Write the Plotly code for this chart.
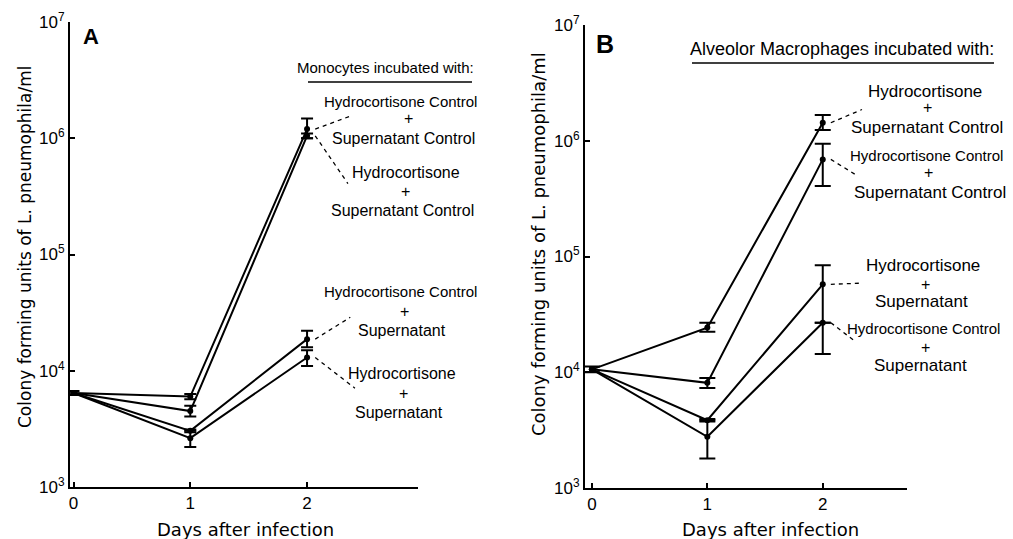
import numpy as np
import plotly.graph_objects as go

nan = np.nan
W, H = 1013, 539

days = [0, 1, 2]
x_ticks = [0, 1, 2]
y_ticks = [1e3, 1e4, 1e5, 1e6, 1e7]
y_ticktext = ["10<sup>3</sup>", "10<sup>4</sup>", "10<sup>5</sup>", "10<sup>6</sup>", "10<sup>7</sup>"]

# ---- Panel A: Monocytes (values, upper and lower error limits) ----
a_hcc_scc = [6.43e3, 6.0e3, 1.2e6]
a_hcc_scc_hi = [6.7e3, 6.3e3, 1.48e6]
a_hcc_scc_lo = [6.2e3, 5.7e3, 1.0e6]

a_hc_scc = [6.43e3, 4.5e3, 1.05e6]
a_hc_scc_hi = [nan, 5.0e3, 1.1e6]
a_hc_scc_lo = [nan, 4.04e3, 1.0e6]

a_hcc_s = [6.43e3, 3.04e3, 1.87e4]
a_hcc_s_hi = [nan, 3.12e3, 2.21e4]
a_hcc_s_lo = [nan, 2.96e3, 1.59e4]

a_hc_s = [6.43e3, 2.63e3, 1.3e4]
a_hc_s_hi = [nan, 3.04e3, 1.5e4]
a_hc_s_lo = [nan, 2.21e3, 1.1e4]

# ---- Panel B: Alveolar macrophages ----
b_hc_scc = [1.06e4, 2.43e4, 1.43e6]
b_hc_scc_hi = [nan, 2.68e4, 1.67e6]
b_hc_scc_lo = [nan, 2.24e4, 1.24e6]

b_hcc_scc = [1.06e4, 8.1e3, 6.9e5]
b_hcc_scc_hi = [1.12e4, 8.9e3, 9.4e5]
b_hcc_scc_lo = [1.0e4, 7.3e3, 4.06e5]

b_hc_s = [1.06e4, 3.85e3, 5.75e4]
b_hc_s_hi = [nan, 3.95e3, 8.4e4]
b_hc_s_lo = [nan, 3.75e3, 2.68e4]

b_hcc_s = [1.06e4, 2.77e3, 2.68e4]
b_hcc_s_hi = [nan, 3.85e3, nan]
b_hcc_s_lo = [nan, 1.8e3, 1.44e4]

# leader-line end points (day, value)
a_leaders = [(a_hcc_scc, 2.37, 10**6.19), (a_hc_scc, 2.35, 10**5.61),
             (a_hcc_s, 2.37, 10**4.46), (a_hc_s, 2.41, 10**3.85)]
b_leaders = [(b_hc_scc, 2.34, 10**6.27), (b_hcc_scc, 2.28, 10**5.71),
             (b_hc_s, 2.34, 10**4.77), (b_hcc_s, 2.29, 10**4.26)]

REG = "Liberation Sans, Arial, sans-serif"
DJ = "DejaVu Sans, sans-serif"

fig = go.Figure()


def add_series(vals, hi, lo, xa, ya, capw):
    v = np.array(vals, dtype=float)
    h = np.array(hi, dtype=float)
    l = np.array(lo, dtype=float)
    fig.add_trace(go.Scatter(
        x=days, y=v, xaxis=xa, yaxis=ya, mode="lines+markers",
        line=dict(color="black", width=2),
        marker=dict(color="black", size=6),
        error_y=dict(type="data", symmetric=False, array=h - v, arrayminus=v - l,
                     color="black", thickness=2, width=capw),
        showlegend=False, cliponaxis=False))


for vals, hi, lo in [(a_hcc_scc, a_hcc_scc_hi, a_hcc_scc_lo), (a_hc_scc, a_hc_scc_hi, a_hc_scc_lo),
                     (a_hcc_s, a_hcc_s_hi, a_hcc_s_lo), (a_hc_s, a_hc_s_hi, a_hc_s_lo)]:
    add_series(vals, hi, lo, "x", "y", 6)
for vals, hi, lo in [(b_hc_scc, b_hc_scc_hi, b_hc_scc_lo), (b_hcc_scc, b_hcc_scc_hi, b_hcc_scc_lo),
                     (b_hc_s, b_hc_s_hi, b_hc_s_lo), (b_hcc_s, b_hcc_s_hi, b_hcc_s_lo)]:
    add_series(vals, hi, lo, "x2", "y2", 8)

for leaders, xa, ya in [(a_leaders, "x", "y"), (b_leaders, "x2", "y2")]:
    for vals, xe, ye in leaders:
        fig.add_trace(go.Scatter(x=[days[2] + 0.07, xe], y=[vals[2], ye], xaxis=xa, yaxis=ya,
                                 mode="lines", line=dict(color="black", width=1.3, dash="4px,4px"),
                                 showlegend=False, hoverinfo="skip"))


def px(x):
    return x / W


def py(y):
    return 1 - y / H


ann = []


def text(t, x, y, size, family=REG, **kw):
    ann.append(dict(text=t, x=px(x), y=py(y), xref="paper", yref="paper", showarrow=False,
                    xanchor="center", yanchor="middle",
                    font=dict(size=size, family=family, color="black"), **kw))


# label blocks: (text, center x, center y, size)
a_labels = [
    ("Hydrocortisone Control", 400, 101, 15), ("+", 408, 118, 16), ("Supernatant Control", 403, 138, 16),
    ("Hydrocortisone", 406, 172, 16), ("+", 405, 191, 16), ("Supernatant Control", 402, 210, 16),
    ("Hydrocortisone Control", 400, 291, 15), ("+", 404, 311, 16), ("Supernatant", 402, 330, 16),
    ("Hydrocortisone", 402, 373, 16), ("+", 403, 393, 16), ("Supernatant", 399, 412, 16),
]
b_labels = [
    ("Hydrocortisone", 925, 92, 17), ("+", 927, 108, 16), ("Supernatant Control", 927, 127, 17),
    ("Hydrocortisone Control", 926, 155, 15), ("+", 928, 173, 16), ("Supernatant Control", 930, 192, 17),
    ("Hydrocortisone", 923, 265, 17), ("+", 925, 284, 16), ("Supernatant", 921, 301, 17),
    ("Hydrocortisone Control", 923, 328, 15), ("+", 925, 347, 16), ("Supernatant", 920, 365, 17),
]
for t, x, y, s in a_labels + b_labels:
    text(t, x, y, s)

text("Monocytes incubated with:", 385, 67, 15)
text("Alveolor Macrophages incubated with:", 842, 49, 18)
text("<b>A</b>", 91, 36, 22)
text("<b>B</b>", 605, 44, 25)
text("Colony forming units of L. pneumophila/ml", 25, 247, 17, DJ, textangle=-90)
text("Colony forming units of L. pneumophila/ml", 538, 244, 18, DJ, textangle=-90)
text("Days after infection", 245, 529, 18, DJ)
text("Days after infection", 770, 529, 18, DJ)

shapes = [
    dict(type="line", xref="paper", yref="paper", x0=px(308), x1=px(472), y0=py(82), y1=py(82),
         line=dict(color="black", width=1.5)),
    dict(type="line", xref="paper", yref="paper", x0=px(692), x1=px(994), y0=py(63), y1=py(63),
         line=dict(color="black", width=1.5)),
]

xcommon = dict(tickvals=x_ticks, ticks="inside", ticklen=5, tickwidth=1.5, tickcolor="black",
               showline=True, linecolor="black", linewidth=2, showgrid=False, zeroline=False,
               tickfont=dict(family=REG, size=17, color="black"), automargin=False)
ycommon = dict(type="log", range=[3, 7], tickvals=y_ticks, ticktext=y_ticktext, ticks="inside",
               ticklen=5, tickwidth=1.5, tickcolor="black", showline=True, linecolor="black",
               linewidth=2, showgrid=False, zeroline=False,
               tickfont=dict(family=REG, size=17, color="black"), automargin=False)

fig.update_layout(
    width=W, height=H, margin=dict(l=0, r=0, t=0, b=0),
    paper_bgcolor="white", plot_bgcolor="white",
    xaxis=dict(domain=[px(70), px(418)], range=[-0.03, 2.95], anchor="y", **xcommon),
    yaxis=dict(domain=[py(487), py(22)], anchor="x", **ycommon),
    xaxis2=dict(domain=[px(585), px(907)], range=[-0.06, 2.73], anchor="y2", **xcommon),
    yaxis2=dict(domain=[py(488), py(25)], anchor="x2", **ycommon),
    annotations=ann, shapes=shapes,
)

fig.write_html("out.html", config={"displayModeBar": False},
               post_script="document.body.style.margin='0';")
